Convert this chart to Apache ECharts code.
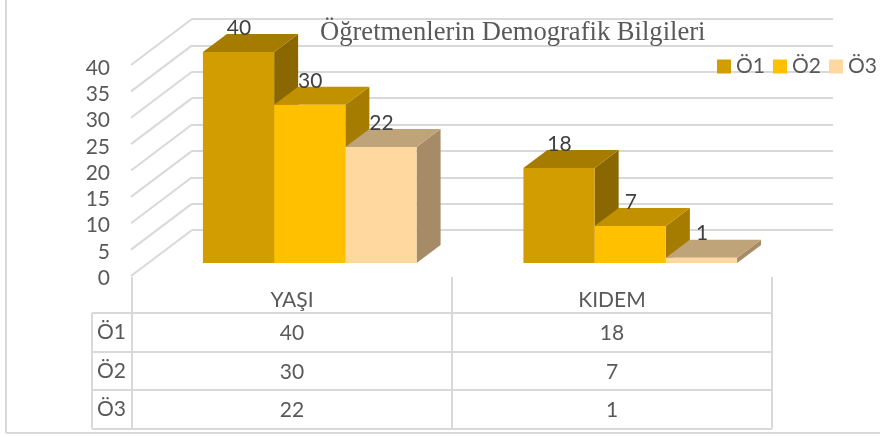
<!DOCTYPE html>
<html>
<head>
<meta charset="utf-8">
<style>html,body{margin:0;padding:0;background:#fff}#chart{width:880px;height:437px}</style>
<script src="https://cdn.jsdelivr.net/npm/echarts@6/dist/echarts.min.js"></script>
</head>
<body>
<div id="chart"></div>
<script>
const categories = ['YAŞI', 'KIDEM'];
const seriesNames = ['Ö1', 'Ö2', 'Ö3'];
const o1Values = [40, 18];
const o2Values = [30, 7];
const o3Values = [22, 1];
const yTicks = [0, 5, 10, 15, 20, 25, 30, 35, 40];

const allValues = [o1Values, o2Values, o3Values];
const faces = [
    { front: '#d29d00', top: '#a67c00', side: '#8a6700' },
    { front: '#ffc000', top: '#c29100', side: '#a67c00' },
    { front: '#ffd8a0', top: '#bfa379', side: '#a58b66' }
];

const lineColor = '#d9d9d9';
const textColor = '#595959';
const font = 'Lato';
const depthX = 24;
const depthY = 18;
const wallX = 61;
const wallY = 46;

const chart = echarts.init(document.getElementById('chart'));

function poly(points, color) {
    return { type: 'polygon', shape: { points }, style: { fill: color } };
}

function renderBar(params, api, idx) {
    const point = api.coord([api.value(0), api.value(1)]);
    const base = api.coord([api.value(0), 0]);
    const width = api.size([1, 0])[0] / 4.5;
    const left = point[0] + (idx - 1.5) * width;
    const right = left + width;
    const top = point[1];
    const bottom = base[1];
    const c = faces[idx];
    return {
        type: 'group',
        children: [
            poly([[right, top], [right + depthX, top - depthY], [right + depthX, bottom - depthY], [right, bottom]], c.side),
            poly([[left, top], [left + depthX, top - depthY], [right + depthX, top - depthY], [right, top]], c.top),
            { type: 'rect', shape: { x: left, y: top, width, height: bottom - top }, style: { fill: c.front } },
            {
                type: 'text',
                style: {
                    x: (left + right) / 2 + 0.5,
                    y: top - 24,
                    text: String(api.value(1)),
                    align: 'center',
                    verticalAlign: 'middle',
                    fill: '#404040',
                    font: '21px ' + font
                }
            }
        ]
    };
}

function renderWall(params, api) {
    const back = api.coord([0, api.value(0)]);
    return {
        type: 'line',
        shape: { x1: back[0], y1: back[1], x2: back[0] - wallX, y2: back[1] + wallY },
        style: { stroke: lineColor, lineWidth: 2 }
    };
}

function renderCell(params, api) {
    const p = api.coord([api.value(0), api.value(1)]);
    return {
        type: 'text',
        style: {
            x: p[0],
            y: p[1] + 1,
            text: String(api.value(2)),
            align: 'center',
            verticalAlign: 'middle',
            fill: textColor,
            font: '21px ' + font
        }
    };
}

const tableCells = [];
allValues.forEach((values, row) => {
    values.forEach((v, col) => tableCells.push([col, row, v]));
});

const option = {
    animation: false,
    backgroundColor: '#fff',
    title: {
        text: 'Öğretmenlerin Demografik Bilgileri',
        left: 315,
        top: 15,
        textStyle: { fontFamily: 'Liberation Serif', fontSize: 26.6, fontWeight: 'normal', color: textColor }
    },
    legend: {
        left: 717,
        top: 56,
        width: 170,
        padding: 0,
        icon: 'rect',
        itemWidth: 14,
        itemHeight: 14,
        itemGap: 8,
        selectedMode: false,
        data: seriesNames,
        textStyle: { fontFamily: font, fontSize: 21, color: textColor, padding: [0, 0, 0, 0] }
    },
    grid: [
        { left: 149.5, width: 641, top: 52, height: 211 },
        { left: 192, width: 641, top: 19, height: 211 },
        { left: 131, width: 1, top: 68, height: 210 },
        { left: 132, width: 640, top: 313, height: 115.5 }
    ],
    xAxis: [
        { gridIndex: 0, type: 'category', data: categories, show: false },
        { gridIndex: 1, type: 'value', min: 0, max: 1, show: false },
        { gridIndex: 2, type: 'value', min: 0, max: 1, show: false },
        {
            gridIndex: 3,
            type: 'category',
            position: 'top',
            data: categories,
            axisLine: { lineStyle: { color: lineColor, width: 2 } },
            axisTick: { show: true, length: 36, lineStyle: { color: lineColor, width: 2 } },
            splitLine: { show: true, lineStyle: { color: lineColor, width: 2 } },
            axisLabel: { margin: 2, fontFamily: font, fontSize: 21, color: textColor }
        }
    ],
    yAxis: [
        { gridIndex: 0, type: 'value', min: 0, max: 40, show: false },
        {
            gridIndex: 1,
            type: 'value',
            min: 0,
            max: 40,
            interval: 5,
            axisLine: { show: false },
            axisTick: { show: false },
            axisLabel: { show: false },
            splitLine: { show: true, lineStyle: { color: lineColor, width: 2 } }
        },
        {
            gridIndex: 2,
            type: 'value',
            min: 0,
            max: 40,
            interval: 5,
            axisLine: { show: false },
            axisTick: { show: false },
            splitLine: { show: false },
            axisLabel: { margin: 21, fontFamily: font, fontSize: 21, color: textColor }
        },
        {
            gridIndex: 3,
            type: 'category',
            inverse: true,
            data: seriesNames,
            axisLine: { lineStyle: { color: lineColor, width: 2 } },
            axisTick: { show: true, length: 40, lineStyle: { color: lineColor, width: 2 } },
            splitLine: { show: true, lineStyle: { color: lineColor, width: 2 } },
            axisLabel: { margin: 6, fontFamily: font, fontSize: 21, color: textColor }
        }
    ],
    series: [
        {
            type: 'custom',
            xAxisIndex: 1,
            yAxisIndex: 1,
            data: yTicks.map((v) => [v]),
            encode: { y: 0 },
            silent: true,
            z: 1,
            renderItem: renderWall
        },
        ...seriesNames.map((name, idx) => ({
            name,
            type: 'custom',
            xAxisIndex: 0,
            yAxisIndex: 0,
            itemStyle: { color: faces[idx].front },
            data: allValues[idx].map((v, i) => [i, v]),
            encode: { x: 0, y: 1 },
            z: 3 + idx,
            clip: false,
            renderItem: (params, api) => renderBar(params, api, idx)
        })),
        {
            type: 'custom',
            xAxisIndex: 3,
            yAxisIndex: 3,
            data: tableCells,
            encode: { x: 0, y: 1 },
            silent: true,
            renderItem: renderCell
        }
    ],
    graphic: [
        { type: 'line', shape: { x1: 92, y1: 313, x2: 92, y2: 428.5 }, style: { stroke: lineColor, lineWidth: 2 } },
        { type: 'line', shape: { x1: 6, y1: 0, x2: 6, y2: 433 }, style: { stroke: lineColor, lineWidth: 2 } },
        { type: 'line', shape: { x1: 6, y1: 433, x2: 880, y2: 433 }, style: { stroke: lineColor, lineWidth: 2 } }
    ]
};

chart.setOption(option);
</script>
</body>
</html>
